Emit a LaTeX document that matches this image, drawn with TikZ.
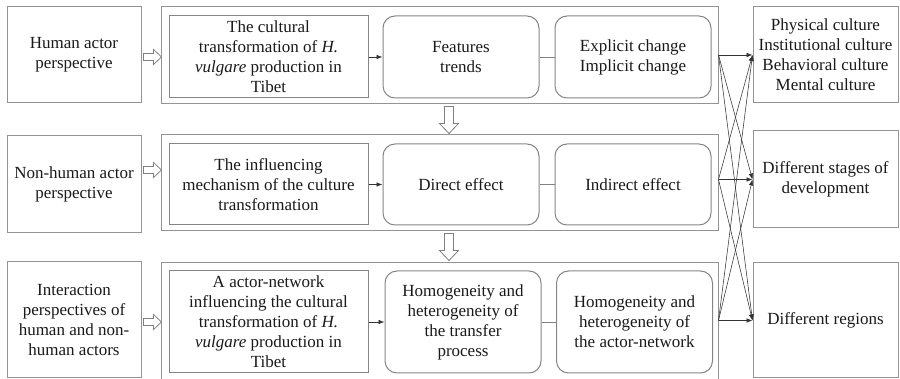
\documentclass[tikz,border=0pt]{standalone}
\usepackage{fontspec}
\setmainfont{Liberation Serif}
\usetikzlibrary{arrows.meta,calc}

% hollow block arrows
\newcommand{\hollowright}[1]{\draw[hollow] (#1) ++(0,3.5) -- ++(10,0) -- ++(0,4) -- ++(8,-7.5) -- ++(-8,-7.5) -- ++(0,4) -- ++(-10,0) -- cycle;}
\newcommand{\hollowdown}[1]{\draw[hollow] (#1) ++(-4.5,0) -- ++(0,17) -- ++(-5,0) -- ++(9.5,10) -- ++(9.5,-10) -- ++(-5,0) -- ++(0,-17) -- cycle;}

\begin{document}
\begin{tikzpicture}[x=1pt,y=-1pt,
  every node/.style={align=center,inner sep=0pt,text=black!90,font=\fontsize{17}{20}\selectfont},
  box/.style={draw=black!42,line width=1pt},
  inbox/.style={draw=black!48,line width=1pt},
  rbox/.style={inbox,rounded corners=12pt},
  hollow/.style={draw=black!50,fill=white,line width=0.8pt},
  tip/.style={draw=black!80,line width=0.6pt,-{Latex[length=6pt,width=4.5pt]}},
  link/.style={draw=black!50,line width=0.6pt},
  cross/.style={draw=black!80,line width=0.55pt,-{Latex[length=6pt,width=4.5pt]}}]

\clip (0,0) rectangle (900,379);

% Perspectives
\node[box,minimum width=134pt,minimum height=96pt] (hum) at (74,55) {Human actor\\perspective};
\node[box,minimum width=134pt,minimum height=97pt] (nhum) at (74,184.5) {Non-human actor\\perspective};
\node[box,minimum width=134pt,minimum height=116pt] (inter) at (74,320) {Interaction\\perspectives of\\human and non-\\human actors};

% Containers
\node[box,minimum width=557pt,minimum height=97pt] (c1) at (439.5,55.5) {};
\node[box,minimum width=557pt,minimum height=96pt] (c2) at (439.5,183) {};
\node[box,minimum width=557pt,minimum height=137pt] (c3) at (439.5,331.5) {};

% Row 1
\node[inbox,minimum width=199pt,minimum height=82pt] (a1) at (268.5,57) {The cultural\\transformation of \textit{H.}\\\textit{vulgare} production in\\Tibet};
\node[rbox,minimum width=156pt,minimum height=82pt] (b1) at (461,57) {Features\\trends};
\node[rbox,minimum width=156pt,minimum height=82pt] (d1) at (633,57) {Explicit change\\Implicit change};

% Row 2
\node[inbox,minimum width=199pt,minimum height=81pt] (a2) at (268.5,184.5) {The influencing\\mechanism of the culture\\transformation};
\node[rbox,minimum width=156pt,minimum height=81pt] (b2) at (461,184.5) {Direct effect};
\node[rbox,minimum width=156pt,minimum height=81pt] (d2) at (633,184.5) {Indirect effect};

% Row 3
\node[inbox,minimum width=199pt,minimum height=102pt] (a3) at (268.5,322) {A actor-network\\influencing the cultural\\transformation of \textit{H.}\\\textit{vulgare} production in\\Tibet};
\node[rbox,minimum width=156pt,minimum height=102pt] (b3) at (463,322) {Homogeneity and\\heterogeneity of\\the transfer\\process};
\node[rbox,minimum width=156pt,minimum height=102pt] (d3) at (634.5,322) {Homogeneity and\\heterogeneity of\\the actor-network};

% Outcomes
\node[box,minimum width=145pt,minimum height=96pt] (r1) at (825.5,55) {Physical culture\\Institutional culture\\Behavioral culture\\Mental culture};
\node[box,minimum width=145pt,minimum height=97pt] (r2) at (825.5,179.5) {Different stages of\\development};
\node[box,minimum width=145pt,minimum height=115pt] (r3) at (825.5,320.5) {Different regions};

% Inner links
\foreach \i in {1,2,3} {
  \draw[tip] (a\i) -- (b\i);
  \draw[link] (b\i) -- (d\i);
}

% Block arrows
\hollowright{$(hum.east)+(2,2)$}
\hollowright{$(nhum.east)+(2,-14.5)$}
\hollowright{$(inter.east)+(2,2)$}
\hollowdown{$(c1.south)+(9.5,2)$}
\hollowdown{$(c2.south)+(9.5,2)$}

% Crossing arrows
\foreach \s in {1,2,3}
  \foreach \t in {1,2,3}
    \draw[cross] (c\s.east |- r\s.west) -- (r\t.west);

\end{tikzpicture}
\end{document}
